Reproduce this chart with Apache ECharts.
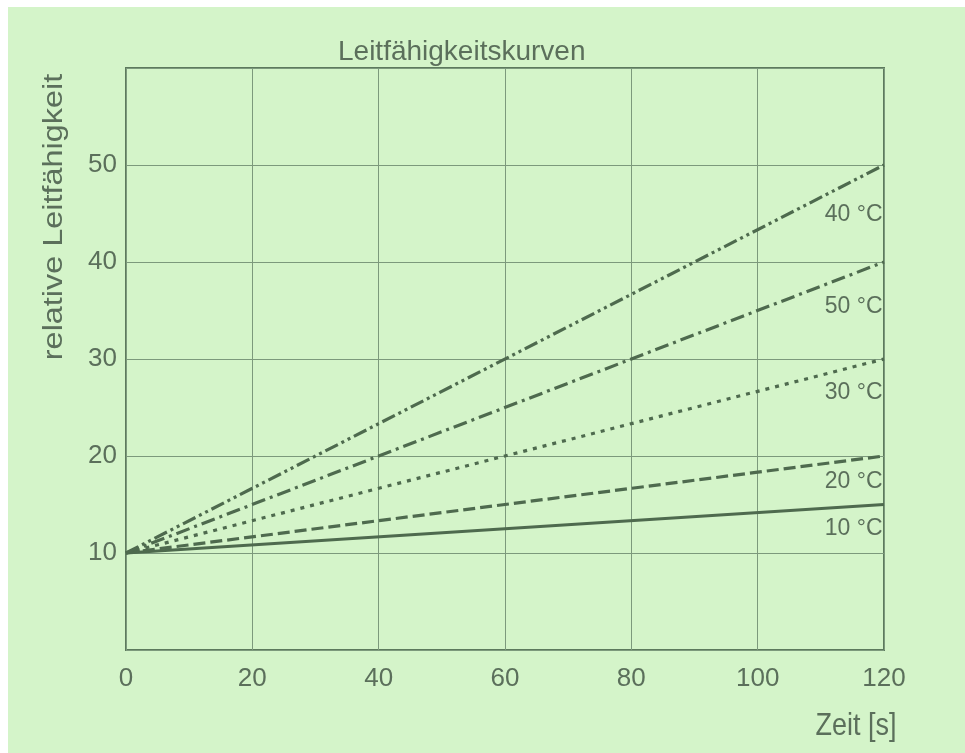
<!DOCTYPE html>
<html><head><meta charset="utf-8">
<script src="https://cdn.jsdelivr.net/npm/echarts@6/dist/echarts.min.js"></script>
<style>html,body{margin:0;padding:0;background:#ffffff;}#c{position:absolute;left:8px;top:7px;width:957px;height:746px;}</style>
</head><body><div id="c"></div>
<script>
// ---- data ----
const chartTitle = 'Leitfähigkeitskurven';
const xName = 'Zeit [s]';
const yName = 'relative Leitfähigkeit';
const times = [0, 120];
const seriesNames = ['10 °C', '20 °C', '30 °C', '50 °C', '40 °C'];
const s10 = [10, 15];
const s20 = [10, 20];
const s30 = [10, 30];
const s50 = [10, 40];
const s40 = [10, 50];
const xTicks = [0, 20, 40, 60, 80, 100, 120];
const yTicks = [10, 20, 30, 40, 50];

// ---- styles ----
const values = [s10, s20, s30, s50, s40];
const dashes = ['solid', [12, 5], [4, 6], [14, 5, 3, 5], [14, 4, 3, 4, 3, 4]];
const labelDy = [24, 26, 34, 45, 50];
const FONT = '"Liberation Sans", Arial, sans-serif';
const TXT = '#5b6f5b';
const LINE = '#4e6a4e';

const series = values.map((v, i) => ({
  name: seriesNames[i],
  type: 'line',
  symbol: 'circle',
  symbolSize: 1,
  showSymbol: true,
  itemStyle: { color: 'rgba(0,0,0,0)', borderWidth: 0 },
  lineStyle: { color: LINE, width: 3.2, type: dashes[i] },
  label: { show: false, position: 'left', distance: 1, offset: [0, labelDy[i]],
           formatter: '{a}', fontSize: 23, color: TXT, fontFamily: FONT },
  emphasis: { disabled: true },
  data: v.map((y, j) => j === v.length - 1
    ? { value: [times[j], y], label: { show: true } }
    : [times[j], y])
}));

const chart = echarts.init(document.getElementById('c'));
chart.setOption({
  animation: false,
  backgroundColor: '#d4f4c9',
  title: {
    text: chartTitle, left: 325, top: 26,
    textStyle: { fontSize: 28, fontWeight: 'normal', color: TXT, fontFamily: FONT }
  },
  grid: { left: 118, top: 61, width: 758, height: 582, show: true,
          borderColor: '#5d7a5d', borderWidth: 2, backgroundColor: 'transparent' },
  xAxis: {
    type: 'value', min: 0, max: 120, interval: 20,
    axisLine: { show: false }, axisTick: { show: false },
    splitLine: { show: true, lineStyle: { color: '#7c997c', width: 1 } },
    axisLabel: { fontSize: 26, color: TXT, fontFamily: FONT, margin: 16,
                 formatter: v => xTicks.includes(v) ? String(v) : '' }
  },
  yAxis: {
    type: 'value', min: 0, max: 60, interval: 10,
    axisLine: { show: false }, axisTick: { show: false },
    splitLine: { show: true, lineStyle: { color: '#7c997c', width: 1 } },
    axisLabel: { fontSize: 26, color: TXT, fontFamily: FONT, margin: 9,
                 padding: [8, 0, 0, 0],
                 formatter: v => yTicks.includes(v) ? String(v) : '' }
  },
  graphic: [
    { type: 'text', x: 47, y: 210, rotation: Math.PI / 2, scaleX: 1.2,
      style: { text: yName, fontSize: 27, fill: TXT, fontFamily: FONT,
               textAlign: 'center', textVerticalAlign: 'middle' } },
    { type: 'text', x: 848, y: 719, scaleY: 1.15,
      style: { text: xName, fontSize: 27, fill: TXT, fontFamily: FONT,
               textAlign: 'center', textVerticalAlign: 'middle' } }
  ],
  series: series
});
</script></body></html>
